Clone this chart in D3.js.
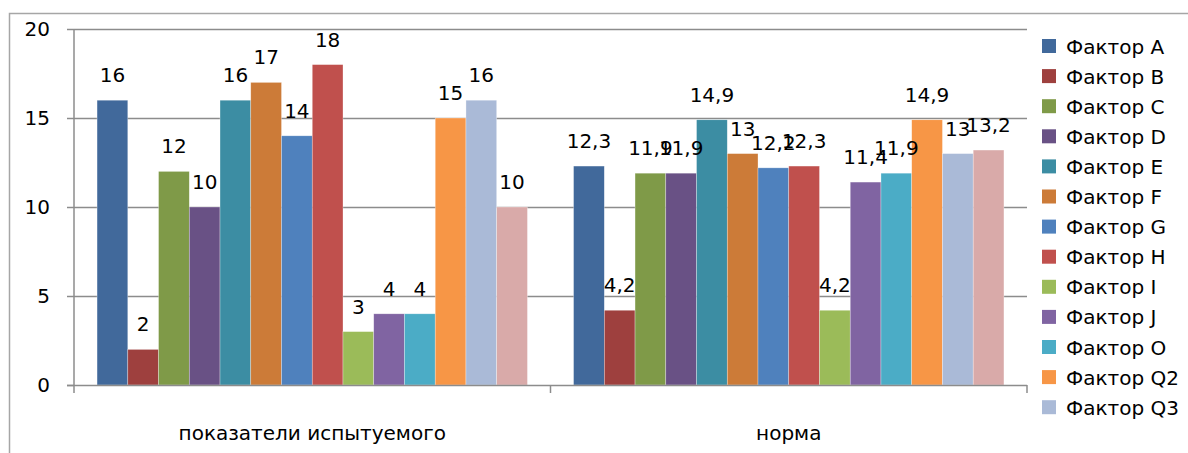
<!DOCTYPE html>
<html><head><meta charset="utf-8">
<script src="https://cdn.jsdelivr.net/npm/d3@7"></script>
<style>body{margin:0;background:#fff}svg{display:block}text{font-family:"DejaVu Sans",sans-serif;fill:#000}</style>
</head><body><svg id="c" width="1188" height="453"></svg>
<script>
const categories = ["показатели испытуемого", "норма"];
const seriesNames = ["Фактор A","Фактор B","Фактор C","Фактор D","Фактор E","Фактор F","Фактор G","Фактор H","Фактор I","Фактор J","Фактор O","Фактор Q2","Фактор Q3","Фактор Q4"];
const subjectValues = [16, 2, 12, 10, 16, 17, 14, 18, 3, 4, 4, 15, 16, 10];
const normValues = [12.3, 4.2, 11.9, 11.9, 14.9, 13, 12.2, 12.3, 4.2, 11.4, 11.9, 14.9, 13, 13.2];
const yTicks = [0, 5, 10, 15, 20];
const legendCount = 13;
const colors = ["#41699b","#9e403e","#7f9a48","#695185","#3c8da3","#cc7b38","#4f81bd","#c0504d","#9bbb59","#8064a2","#4bacc6","#f79646","#aabad7","#d9aaa9"];

const valuesByCat = [subjectValues, normValues];
const svg = d3.select("#c");
const L = 74, R = 1027, T = 29, B = 385;
const FS = 20;

// outer border
svg.append("path").attr("d","M9.5,453 V13.5 H1188").attr("fill","none").attr("stroke","#a6a6a6").attr("stroke-width",1.5);

const y = d3.scaleLinear().domain([0,20]).range([B,T]);
const x0 = d3.scaleBand().domain(categories).range([L,R]);
const x1 = d3.scaleBand().domain(seriesNames).range([0,x0.bandwidth()]).paddingOuter(0.75).paddingInner(0);

// gridlines
svg.append("g").selectAll("line").data(yTicks.filter(d=>d>0)).join("line")
  .attr("x1",L).attr("x2",R).attr("y1",d=>Math.round(y(d))+0.5).attr("y2",d=>Math.round(y(d))+0.5)
  .attr("stroke","#8c8c8c").attr("stroke-width",1.5);

// bars
const g = svg.append("g");
categories.forEach((c,ci)=>{
  seriesNames.forEach((s,si)=>{
    const v = valuesByCat[ci][si];
    g.append("rect").attr("x",x0(c)+x1(s)).attr("y",y(v)).attr("width",x1.bandwidth()).attr("height",B-y(v))
      .attr("fill",colors[si]).attr("stroke","#ffffff").attr("stroke-opacity",0.5).attr("stroke-width",0.6);
  });
});
// labels
const fmt = v => String(v).replace(".", ",");
categories.forEach((c,ci)=>{
  seriesNames.forEach((s,si)=>{
    const v = valuesByCat[ci][si];
    svg.append("text").attr("x",x0(c)+x1(s)+x1.bandwidth()/2).attr("y",y(v)-18)
      .attr("text-anchor","middle").attr("font-size",FS).text(fmt(v));
  });
});

// y axis
const ya = svg.append("g").attr("transform",`translate(${L},0)`)
  .call(d3.axisLeft(y).tickValues(yTicks).tickSize(7).tickPadding(17).tickFormat(d3.format("d")));
ya.select(".domain").attr("stroke","#8c8c8c").attr("stroke-width",1.5).attr("d",`M-0,${T}V${B}`);
ya.selectAll(".tick line").attr("stroke","#8c8c8c").attr("stroke-width",1.5);
ya.selectAll(".tick text").attr("font-size",FS).attr("font-family","'DejaVu Sans',sans-serif").attr("fill","#000");

// x axis
svg.append("line").attr("x1",L-7).attr("x2",R).attr("y1",B+0.5).attr("y2",B+0.5).attr("stroke","#8c8c8c").attr("stroke-width",1.5);
[L, x0(categories[1]), R].forEach(px=>{
  svg.append("line").attr("x1",px).attr("x2",px).attr("y1",B).attr("y2",B+8).attr("stroke","#8c8c8c").attr("stroke-width",1.5);
});
categories.forEach(c=>{
  svg.append("text").attr("x",x0(c)+x0.bandwidth()/2).attr("y",440).attr("text-anchor","middle").attr("font-size",FS).text(c);
});

// legend
const lg = svg.append("g");
seriesNames.slice(0,legendCount).forEach((s,i)=>{
  const cy = 46 + i*30.1;
  lg.append("rect").attr("x",1042).attr("y",cy-7).attr("width",14).attr("height",14).attr("fill",colors[i]);
  lg.append("text").attr("x",1066).attr("y",cy+7.5).attr("font-size",FS).text(s);
});
</script></body></html>
